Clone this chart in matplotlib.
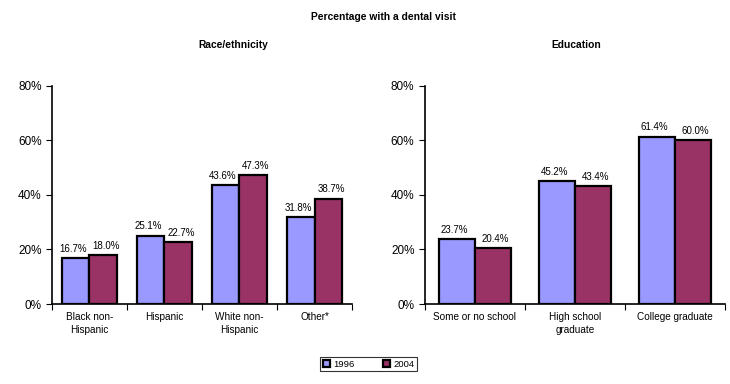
import matplotlib.pyplot as plt
import numpy as np

plt.rcParams['font.family'] = ['Liberation Sans', 'DejaVu Sans']

years = ['1996', '2004']
race_cats = ['Black non-\nHispanic', 'Hispanic', 'White non-\nHispanic', 'Other*']
race_1996 = [16.7, 25.1, 43.6, 31.8]
race_2004 = [18.0, 22.7, 47.3, 38.7]
edu_cats = ['Some or no school', 'High school\ngraduate', 'College graduate']
edu_1996 = [23.7, 45.2, 61.4]
edu_2004 = [20.4, 43.4, 60.0]

c1996 = '#9999ff'
c2004 = '#993366'

fig = plt.figure(figsize=(7.3, 3.84), dpi=100)
ax1 = fig.add_axes([0.0712, 0.2083, 0.411, 0.568])
ax2 = fig.add_axes([0.582, 0.2083, 0.411, 0.568])


def draw(ax, cats, v1, v2, group):
    x = np.arange(len(cats))
    w = group / 2
    b1 = ax.bar(x - w / 2, v1, w, color=c1996, edgecolor='black', linewidth=1.6, label=years[0])
    b2 = ax.bar(x + w / 2, v2, w, color=c2004, edgecolor='black', linewidth=1.6, label=years[1])
    # labels pushed a little outward, like the original
    for bars, dx in ((b1, -2), (b2, 2)):
        for b in bars:
            ax.annotate('%.1f%%' % b.get_height(), (b.get_x() + b.get_width() / 2, b.get_height()),
                        xytext=(dx, 3), textcoords='offset points',
                        ha='center', va='bottom', fontsize=7)
    ax.set_xlim(-0.5, len(cats) - 0.5)
    ax.set_ylim(0, 80)
    ax.set_yticks([0, 20, 40, 60, 80])
    ax.set_yticklabels(['0%', '20%', '40%', '60%', '80%'], fontsize=8.5)
    ax.set_xticks(np.arange(len(cats) + 1) - 0.5)
    ax.set_xticklabels([])
    ax.set_xticks(x, minor=True)
    ax.set_xticklabels(cats, minor=True, fontsize=7.2, linespacing=1.3)
    ax.tick_params(axis='x', which='minor', length=0, pad=6)
    ax.tick_params(axis='x', which='major', length=4, direction='out')
    ax.tick_params(axis='y', length=4, direction='out')
    for s in ('top', 'right'):
        ax.spines[s].set_visible(False)
    for s in ('left', 'bottom'):
        ax.spines[s].set_linewidth(1.2)
    return b1, b2


h = draw(ax1, race_cats, race_1996, race_2004, 0.73)
draw(ax2, edu_cats, edu_1996, edu_2004, 0.72)

fig.text(0.525, 0.955, 'Percentage with a dental visit', ha='center', va='center', fontsize=7.4, weight='bold')
fig.text(0.319, 0.883, 'Race/ethnicity', ha='center', va='center', fontsize=7.4, weight='bold')
fig.text(0.790, 0.883, 'Education', ha='center', va='center', fontsize=7.4, weight='bold')

leg = fig.legend(h, years, loc='center', bbox_to_anchor=(0.505, 0.052), ncol=2, fontsize=6.8,
                 frameon=True, fancybox=False, edgecolor='black', handlelength=0.8, handleheight=0.8,
                 columnspacing=3, borderpad=0.3, handletextpad=0.3)
leg.get_frame().set_linewidth(0.8)

fig.savefig('out.png', dpi=100)
